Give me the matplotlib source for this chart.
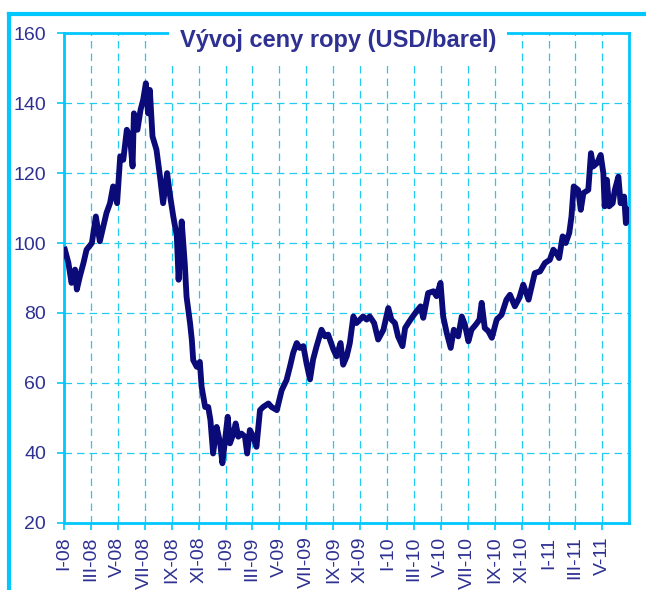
import pandas as pd
import matplotlib
matplotlib.use("Agg")
import matplotlib.pyplot as plt
from matplotlib.lines import Line2D

# oil price, USD/barrel
dates = [
    "2008-01-03", "2008-01-11", "2008-01-18", "2008-01-26", "2008-01-30", "2008-02-06",
    "2008-02-14", "2008-02-21", "2008-03-04", "2008-03-13", "2008-03-22", "2008-03-30",
    "2008-04-06", "2008-04-14", "2008-04-21", "2008-04-30", "2008-05-07", "2008-05-14",
    "2008-05-22", "2008-05-29", "2008-06-04", "2008-06-07", "2008-06-15", "2008-06-22",
    "2008-06-28", "2008-07-04", "2008-07-09", "2008-07-13", "2008-07-19", "2008-07-28",
    "2008-08-05", "2008-08-12", "2008-08-21", "2008-08-28", "2008-09-04", "2008-09-12",
    "2008-09-16", "2008-09-23", "2008-09-30", "2008-10-04", "2008-10-12", "2008-10-16",
    "2008-10-19", "2008-10-27", "2008-11-03", "2008-11-07", "2008-11-15", "2008-11-22",
    "2008-11-27", "2008-12-03", "2008-12-11", "2008-12-19", "2008-12-24", "2008-12-30",
    "2009-01-05", "2009-01-10", "2009-01-18", "2009-01-23", "2009-01-29", "2009-02-05",
    "2009-02-13", "2009-02-18", "2009-02-24", "2009-03-04", "2009-03-11", "2009-03-19",
    "2009-03-26", "2009-04-07", "2009-04-14", "2009-04-26", "2009-05-07", "2009-05-18",
    "2009-05-26", "2009-06-02", "2009-06-10", "2009-06-17", "2009-06-25", "2009-07-02",
    "2009-07-10", "2009-07-17", "2009-07-25", "2009-08-05", "2009-08-13", "2009-08-20",
    "2009-09-01", "2009-09-08", "2009-09-17", "2009-09-23", "2009-10-01", "2009-10-08",
    "2009-10-16", "2009-10-23", "2009-10-31", "2009-11-07", "2009-11-15", "2009-11-22",
    "2009-12-02", "2009-12-11", "2009-12-23", "2010-01-03", "2010-01-10", "2010-01-18",
    "2010-01-25", "2010-02-04", "2010-02-10", "2010-02-17", "2010-02-25", "2010-03-08",
    "2010-03-17", "2010-03-23", "2010-04-03", "2010-04-15", "2010-04-22", "2010-05-01",
    "2010-05-07", "2010-05-15", "2010-05-24", "2010-05-31", "2010-06-10", "2010-06-18",
    "2010-06-25", "2010-07-03", "2010-07-10", "2010-07-20", "2010-07-28", "2010-08-02",
    "2010-08-09", "2010-08-17", "2010-08-25", "2010-09-05", "2010-09-16", "2010-09-27",
    "2010-10-05", "2010-10-16", "2010-10-26", "2010-11-04", "2010-11-16", "2010-11-30",
    "2010-12-12", "2010-12-23", "2011-01-03", "2011-01-11", "2011-01-18", "2011-01-24",
    "2011-02-01", "2011-02-08", "2011-02-16", "2011-02-21", "2011-02-26", "2011-03-08",
    "2011-03-14", "2011-03-20", "2011-03-31", "2011-04-06", "2011-04-11", "2011-04-20",
    "2011-04-28", "2011-05-04", "2011-05-07", "2011-05-12", "2011-05-17", "2011-05-25",
    "2011-05-30", "2011-06-07", "2011-06-12", "2011-06-20", "2011-06-24", "2011-06-30",
]
prices = [
    98.1, 94.3, 88.6, 92.4, 86.7, 90.5,
    94.3, 98.1, 100.0, 107.6, 100.5, 104.8,
    108.6, 111.4, 116.2, 111.4, 124.8, 123.8,
    132.4, 130.5, 121.9, 137.1, 132.4, 138.1,
    141.0, 145.7, 137.1, 143.8, 130.5, 126.7,
    119.0, 111.4, 120.0, 113.3, 107.6, 101.9,
    89.5, 106.2, 94.0, 84.6, 77.0, 72.2,
    66.5, 64.6, 66.0, 58.9, 53.1, 53.1,
    49.3, 39.8, 47.4, 42.7, 37.0, 43.6,
    50.3, 42.7, 45.5, 48.4, 44.6, 45.5,
    44.6, 39.8, 46.5, 44.6, 41.7, 52.2,
    53.1, 54.1, 53.1, 52.2, 57.9, 60.8,
    64.8, 68.6, 71.4, 70.0, 70.5, 65.7,
    61.0, 66.7, 70.5, 75.2, 73.3, 73.8,
    69.5, 67.6, 71.4, 65.2, 67.6, 71.4,
    79.0, 77.1, 78.1, 79.0, 78.1, 79.0,
    77.1, 72.4, 75.2, 81.4, 78.1, 77.1,
    73.3, 70.5, 75.7, 77.1, 78.6, 80.5,
    81.9, 78.6, 85.7, 86.2, 84.8, 88.6,
    79.0, 74.3, 70.0, 75.2, 73.3, 79.0,
    76.7, 71.9, 75.2, 76.7, 78.1, 82.9,
    75.7, 74.8, 72.9, 78.1, 79.5, 83.8,
    85.2, 81.9, 84.3, 88.1, 83.8, 91.4,
    91.9, 94.3, 95.2, 98.1, 97.1, 95.7,
    101.9, 100.0, 102.9, 107.6, 116.2, 115.2,
    109.5, 114.3, 115.2, 125.7, 121.9, 122.9,
    125.2, 120.0, 110.5, 118.1, 110.5, 111.4,
    115.2, 119.0, 111.4, 113.3, 105.7, 109.5,
]

tick_dates = pd.date_range("2008-01-01", "2011-05-01", freq="2MS")
tick_labels = [
    "I-08", "III-08", "V-08", "VII-08", "IX-08", "XI-08",
    "I-09", "III-09", "V-09", "VII-09", "IX-09", "XI-09",
    "I-10", "III-10", "V-10", "VII-10", "IX-10", "XI-10",
    "I-11", "III-11", "V-11",
]
y_ticks = [20, 40, 60, 80, 100, 120, 140, 160]

cyan = "#00c8ff"
grid_c = "#22ccf0"
txt_c = "#2e3192"
line_c = "#0a0a78"

plt.rcParams["font.family"] = ["Liberation Sans", "DejaVu Sans"]

fig = plt.figure(figsize=(6.46, 5.9), dpi=100)
ax = fig.add_axes([64 / 646, 1 - 522.7 / 590, (629 - 64) / 646, (522.7 - 33.3) / 590])

x = pd.to_datetime(dates)
ax.plot(x, prices, color=line_c, lw=4.2, solid_joinstyle="round", zorder=3)

ax.set_xlim(pd.Timestamp("2008-01-01"), pd.Timestamp("2011-07-01"))
ax.set_ylim(20, 160)
ax.set_yticks(y_ticks)
ax.set_xticks(tick_dates)
ax.set_xticklabels(tick_labels, rotation=90)

ax.grid(True, color=grid_c, lw=0.9, ls=(0, (6, 4)))
ax.set_axisbelow(True)
for s in ax.spines.values():
    s.set_color(cyan)
    s.set_linewidth(2)
ax.tick_params(axis="both", colors=cyan, length=5, width=1.2, direction="out",
               labelcolor=txt_c, labelsize=14)
ax.tick_params(axis="y", pad=8)
ax.tick_params(axis="x", pad=5)

ax.text(0.485, 1 - 7 / 489.4, "Vývoj ceny ropy (USD/barel)", transform=ax.transAxes,
        ha="center", va="center", fontsize=17, fontweight="bold", color=txt_c,
        zorder=10, clip_on=False,
        bbox=dict(boxstyle="square,pad=0.45", fc="white", ec="none"))

# outer frame (top and left edges)
fig.add_artist(Line2D([9 / 646, 1], [1 - 14 / 590, 1 - 14 / 590], color=cyan, lw=3))
fig.add_artist(Line2D([9 / 646, 9 / 646], [0, 1 - 14 / 590], color=cyan, lw=3))

plt.savefig("out.png", dpi=100)
plt.close()
